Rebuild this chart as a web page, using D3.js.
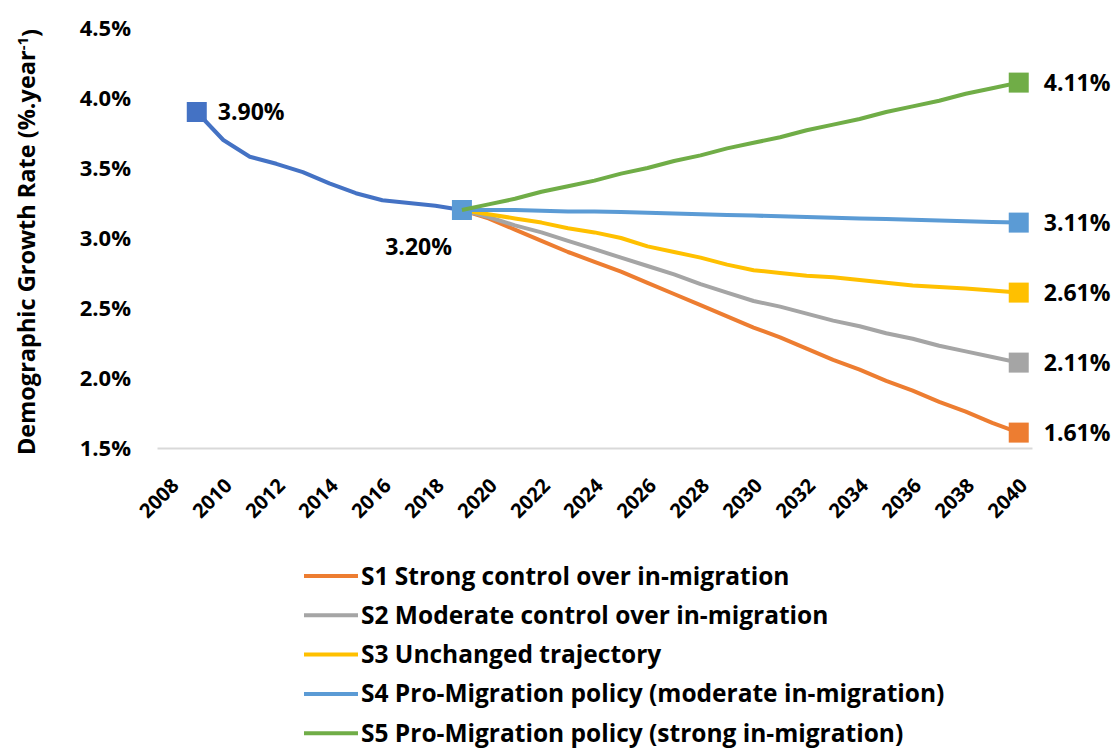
<!DOCTYPE html>
<html>
<head>
<meta charset="utf-8">
<script src="https://cdn.jsdelivr.net/npm/d3@7"></script>
<style>
    body { margin: 0; background: #ffffff; }
    text { font-family: "Open Sans", "Noto Sans", sans-serif; font-weight: bold; fill: #000000; }
</style>
</head>
<body>
<svg id="chart"></svg>
<script>
/* ----------数据---------- */

var years = d3.range(2008, 2041);
var xTickYears = d3.range(2008, 2041, 2);
var yTicks = [1.5, 2.0, 2.5, 3.0, 3.5, 4.0, 4.5];

// 历史 2009-2019
var historyYears = d3.range(2009, 2020);
var historyValues = [3.90, 3.70, 3.58, 3.53, 3.47, 3.39, 3.32, 3.27, 3.25, 3.23, 3.20];

// 情景 2019-2040
var scenarioYears = d3.range(2019, 2041);
var s1Values = [3.20, 3.14, 3.06, 2.98, 2.90, 2.83, 2.76, 2.68, 2.60, 2.52, 2.44, 2.36,
                2.29, 2.21, 2.13, 2.06, 1.98, 1.91, 1.83, 1.76, 1.68, 1.61];
var s2Values = [3.20, 3.15, 3.09, 3.04, 2.98, 2.92, 2.86, 2.80, 2.74, 2.67, 2.61, 2.55,
                2.51, 2.46, 2.41, 2.37, 2.32, 2.28, 2.23, 2.19, 2.15, 2.11];
var s3Values = [3.20, 3.17, 3.14, 3.11, 3.07, 3.04, 3.00, 2.94, 2.90, 2.86, 2.81, 2.77,
                2.75, 2.73, 2.72, 2.70, 2.68, 2.66, 2.65, 2.64, 2.625, 2.61];
var s4Values = [3.20, 3.20, 3.20, 3.195, 3.19, 3.19, 3.185, 3.18, 3.175, 3.17, 3.165, 3.16,
                3.155, 3.15, 3.145, 3.14, 3.135, 3.13, 3.125, 3.12, 3.115, 3.11];
var s5Values = [3.20, 3.24, 3.28, 3.33, 3.37, 3.41, 3.46, 3.50, 3.55, 3.59, 3.64, 3.68,
                3.72, 3.77, 3.81, 3.85, 3.90, 3.94, 3.98, 4.03, 4.07, 4.11];

var scenarioNames = [
    "S1 Strong control over in-migration",
    "S2 Moderate control over in-migration",
    "S3 Unchanged trajectory",
    "S4 Pro-Migration policy (moderate in-migration)",
    "S5 Pro-Migration policy (strong in-migration)"
];

/* ----------颜色---------- */

var historyColor = "#4472c4",
    scenarioColors = ["#ed7d31", "#a5a5a5", "#ffc000", "#5b9bd5", "#70ad47"],
    axisColor = "#d9d9d9";

/* ----------SVG---------- */

var WIDTH = 1116,
    HEIGHT = 749;

var svg = d3.select("#chart")
    .attr("width", WIDTH)
    .attr("height", HEIGHT);

var x = d3.scaleBand()
    .domain(years)
    .range([157, 1032]);

var y = d3.scaleLinear()
    .domain([1.5, 4.5])
    .range([448, 28]);

function cx(year) { return x(year) + x.bandwidth() / 2; }

/* ----------坐标轴---------- */

var yAxis = svg.append("g")
    .attr("transform", "translate(157,0)")
    .call(d3.axisLeft(y)
        .tickValues(yTicks)
        .tickSize(0)
        .tickPadding(26)
        .tickFormat(function(d) { return d3.format(".1f")(d) + "%"; }));

yAxis.select(".domain").remove();
yAxis.selectAll("text")
    .style("font-size", "22px")
    .style("font-family", null);

var xAxis = svg.append("g")
    .attr("transform", "translate(0,448)")
    .call(d3.axisBottom(x)
        .tickValues(xTickYears)
        .tickSize(0));

xAxis.select(".domain")
    .attr("stroke", axisColor)
    .attr("stroke-width", 2);

xAxis.selectAll("text")
    .style("font-size", "20px")
    .style("font-family", null)
    .attr("text-anchor", "end")
    .attr("y", 0)
    .attr("dy", "0.35em")
    .attr("transform", "translate(5,34) rotate(-45)");

svg.append("text")
    .attr("transform", "translate(35,242) rotate(-90)")
    .attr("text-anchor", "middle")
    .style("font-size", "23.5px")
    .text("Demographic Growth Rate (%.year")
  .append("tspan")
    .attr("dy", "-0.5em")
    .style("font-size", "15px")
    .text("-1")
  .select(function() { return this.parentNode; })
  .append("tspan")
    .attr("dy", "0.5em")
    .text(")");

/* ----------折线---------- */

var line = d3.line()
    .x(function(d) { return cx(d[0]); })
    .y(function(d) { return y(d[1]); });

var MARKER = 20;

function drawMarker(year, value, color) {
    svg.append("rect")
        .attr("x", cx(year) - MARKER / 2)
        .attr("y", y(value) - MARKER / 2)
        .attr("width", MARKER)
        .attr("height", MARKER)
        .attr("fill", color);
}

// 历史
svg.append("path")
    .datum(d3.zip(historyYears, historyValues))
    .attr("fill", "none")
    .attr("stroke", historyColor)
    .attr("stroke-width", 4)
    .attr("stroke-linejoin", "round")
    .attr("d", line);

drawMarker(historyYears[0], historyValues[0], historyColor);

// 情景
var scenarios = [s1Values, s2Values, s3Values, s4Values, s5Values];
var last = scenarioYears.length - 1;

scenarios.forEach(function(vals, i) {
    svg.append("path")
        .datum(d3.zip(scenarioYears, vals))
        .attr("fill", "none")
        .attr("stroke", scenarioColors[i])
        .attr("stroke-width", 4)
        .attr("stroke-linejoin", "round")
        .attr("d", line);

    if (i == 3) drawMarker(scenarioYears[0], vals[0], scenarioColors[i]);
    drawMarker(scenarioYears[last], vals[last], scenarioColors[i]);

    svg.append("text")
        .attr("x", cx(scenarioYears[last]) + 25)
        .attr("y", y(vals[last]))
        .attr("dy", "0.35em")
        .style("font-size", "23px")
        .text(d3.format(".2f")(vals[last]) + "%");
});

/* ----------数据标签---------- */

svg.append("text")
    .attr("x", cx(historyYears[0]) + 21)
    .attr("y", y(historyValues[0]))
    .attr("dy", "0.35em")
    .style("font-size", "23px")
    .text(d3.format(".2f")(historyValues[0]) + "%");

svg.append("text")
    .attr("x", cx(2019) - 10)
    .attr("y", y(historyValues[historyValues.length - 1]) + 37)
    .attr("dy", "0.35em")
    .attr("text-anchor", "end")
    .style("font-size", "23px")
    .text(d3.format(".2f")(historyValues[historyValues.length - 1]) + "%");

/* ----------图例---------- */

var legend = svg.append("g")
    .selectAll("g")
    .data(scenarioNames)
  .enter().append("g")
    .attr("transform", function(d, i) { return "translate(304," + (576 + i * 39.3) + ")"; });

legend.append("line")
    .attr("x1", 0)
    .attr("x2", 54)
    .attr("stroke", function(d, i) { return scenarioColors[i]; })
    .attr("stroke-width", 4);

legend.append("text")
    .attr("x", 57)
    .attr("dy", "0.35em")
    .style("font-size", "24.5px")
    .text(function(d) { return d; });
</script>
</body>
</html>
